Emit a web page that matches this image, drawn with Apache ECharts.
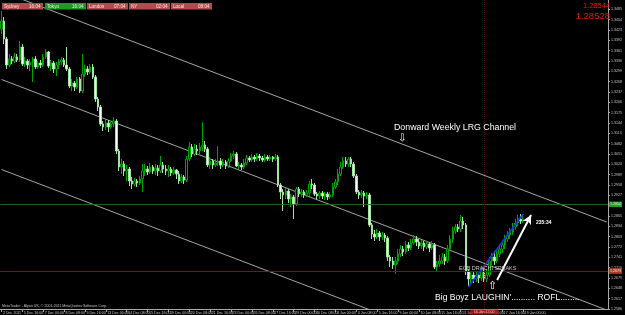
<!DOCTYPE html>
<html><head><meta charset="utf-8">
<script src="https://cdn.jsdelivr.net/npm/echarts/dist/echarts.min.js"></script>
<style>html,body{margin:0;padding:0;background:#000;}#c{width:625px;height:315px;}</style>
</head><body><div id="c"></div>
<script>
// ---- time axis labels (one every 8 four-hour bars) ----
const timeLabels = ["2 Dec 2011","5 Dec 16:00","7 Dec 00:00","8 Dec 08:00","9 Dec 16:00","13 Dec 00:00","14 Dec 08:00","15 Dec 16:00","19 Dec 00:00","20 Dec 08:00","21 Dec 16:00","23 Dec 00:00","26 Dec 08:00","27 Dec 16:00","29 Dec 00:00","30 Dec 08:00","3 Jan 00:00","4 Jan 08:00","5 Jan 16:00","9 Jan 00:00","10 Jan 08:00","11 Jan 16:00","13 Jan 00:00","16 Jan 08:00","17 Jan 16:00","19 Jan 00:00"];
const slotCount = 233;          // bars + empty chart shift on the right
const labelEvery = 8;

// ---- EURUSD H4 candles, in pips (price * 10000) ----
const opensPips = [
13426,13450,13396,13318,13336,13330,13342,13333,13372,13321,
13330,13318,13327,13336,13312,13324,13318,13342,13357,13315,
13324,13306,13318,13327,13333,13318,13306,13255,13264,13252,
13276,13240,13291,13306,13297,13312,13282,13216,13192,13141,
13132,13144,13132,13141,13150,13060,13012,13021,13000,13006,
12970,12961,12970,12964,12976,13000,13006,12997,13012,13000,
13009,13000,13018,13006,13000,13006,12994,13003,12991,12970,
12982,12973,13036,13072,13051,13066,13060,13072,13078,13066,
13018,13030,13018,13024,13030,13018,13027,13015,13030,13045,
13051,13015,13018,13012,13024,13039,13033,13042,13036,13045,
13039,13033,13042,13036,13042,13036,13042,12958,12937,12928,
12940,12916,12922,12901,12946,12931,12937,12928,12934,12961,
12958,12931,12925,12934,12925,12931,12922,12928,12952,12967,
12991,13012,13030,13021,13036,13021,12985,12937,12928,12934,
12925,12928,12838,12811,12802,12814,12802,12808,12799,12742,
12730,12718,12730,12751,12766,12757,12778,12769,12784,12796,
12787,12775,12784,12772,12781,12769,12778,12712,12721,12730,
12742,12730,12766,12796,12820,12832,12826,12850,12838,12700,
12676,12688,12676,12688,12679,12700,12676,12688,12730,12742,
12730,12751,12766,12778,12796,12808,12817,12832,12844,12856,12850];
const closesPips = [
13450,13396,13318,13336,13330,13342,13333,13372,13321,13330,
13318,13327,13336,13312,13324,13318,13342,13357,13315,13324,
13306,13318,13327,13333,13318,13306,13255,13264,13252,13276,
13240,13291,13306,13297,13312,13282,13216,13192,13141,13132,
13144,13132,13141,13150,13060,13012,13021,13000,13006,12970,
12961,12970,12964,12976,13000,13006,12997,13012,13000,13009,
13000,13018,13006,13000,13006,12994,13003,12991,12970,12982,
12973,13036,13072,13051,13066,13060,13072,13078,13066,13018,
13030,13018,13024,13030,13018,13027,13015,13030,13045,13051,
13015,13018,13012,13024,13039,13033,13042,13036,13045,13039,
13033,13042,13036,13042,13036,13042,12958,12937,12928,12940,
12916,12922,12901,12946,12931,12937,12928,12934,12961,12958,
12931,12925,12934,12925,12931,12922,12928,12952,12967,12991,
13012,13030,13021,13036,13021,12985,12937,12928,12934,12925,
12928,12838,12811,12802,12814,12802,12808,12799,12742,12730,
12718,12730,12751,12766,12757,12778,12769,12784,12796,12787,
12775,12784,12772,12781,12769,12778,12712,12721,12730,12742,
12730,12766,12796,12820,12832,12826,12850,12838,12700,12676,
12688,12676,12688,12679,12700,12676,12688,12730,12742,12730,
12751,12766,12778,12796,12808,12817,12832,12844,12856,12850,12854];
const highsPips = [
13480,13462,13402,13351,13345,13354,13351,13390,13381,13342,
13336,13336,13342,13345,13330,13333,13351,13366,13360,13333,
13330,13327,13336,13342,13339,13372,13312,13276,13270,13282,
13282,13351,13318,13315,13321,13321,13288,13222,13198,13150,
13153,13153,13150,13162,13156,13066,13036,13030,13018,13012,
12982,12979,12976,12985,13021,13021,13015,13024,13018,13021,
13018,13045,13027,13018,13018,13012,13012,13006,13000,12991,
12988,13045,13087,13081,13081,13078,13084,13147,13090,13072,
13042,13036,13036,13075,13039,13036,13033,13039,13054,13060,
13057,13027,13024,13036,13048,13045,13051,13048,13054,13051,
13045,13051,13048,13048,13045,13051,13048,12964,12946,12949,
12946,12931,12928,12952,12952,12946,12943,12943,12970,12976,
12964,12937,12940,12940,12937,12937,12937,12964,12976,13006,
13027,13042,13042,13042,13042,13027,12991,12943,12943,12940,
12937,12934,12844,12823,12826,12820,12817,12814,12805,12748,
12742,12742,12766,12778,12775,12790,12787,12796,12808,12805,
12796,12793,12790,12790,12787,12790,12784,12730,12748,12754,
12751,12778,12808,12832,12841,12841,12868,12862,12844,12706,
12700,12697,12700,12694,12712,12712,12706,12742,12754,12760,
12766,12778,12790,12808,12820,12829,12844,12856,12868,12871,12865];
const lowsPips = [
13411,13381,13306,13312,13321,13324,13327,13327,13315,13312,
13306,13300,13267,13306,13306,13309,13312,13336,13309,13300,
13294,13285,13306,13318,13312,13300,13249,13240,13240,13246,
13234,13234,13282,13288,13291,13276,13207,13180,13135,13120,
13123,13117,13126,13132,13051,13000,12991,12985,12970,12955,
12946,12955,12952,12958,12937,12985,12988,12991,12991,12988,
12985,12994,12994,12988,12982,12985,12988,12976,12961,12964,
12961,12967,13030,13042,13045,13048,13051,13060,13057,13012,
13006,13006,13012,13015,13006,13012,13006,13009,13027,13036,
13012,13006,13003,13006,13018,13027,13027,13027,13030,13030,
13027,13027,13030,13030,13027,13030,12952,12916,12880,12916,
12904,12892,12856,12895,12922,12922,12919,12922,12925,12946,
12925,12916,12916,12916,12913,12913,12916,12922,12946,12958,
12985,13006,13012,13012,13012,12979,12931,12916,12919,12892,
12916,12832,12796,12790,12796,12790,12793,12787,12730,12712,
12706,12691,12721,12742,12745,12751,12760,12763,12778,12775,
12766,12766,12760,12766,12757,12763,12706,12700,12712,12721,
12718,12724,12760,12784,12811,12817,12817,12826,12688,12655,
12661,12664,12667,12664,12670,12667,12667,12682,12718,12718,
12724,12742,12754,12766,12787,12796,12808,12823,12835,12841,12844];

// ---- drawn objects (bar index, price) ----
const levelGreen = [1.28544, 1.2695];
const levelRed = [1.2673];
const channelUpper = [[0, 1.35385], [232, 1.28470]];
const channelMiddle = [[0, 1.32745], [232, 1.25830]];
const channelLower = [[0, 1.30045], [232, 1.23130]];
const blueTrend = [[179, 1.2652], [200, 1.2871]];
const whiteArrow = [[190, 1.2673], [203, 1.2868]];
const separatorBar = 185;
const separatorLabel = "16 Jan 12:00";
const priceTicks = {min: 1.2586, max: 1.3513, step: 0.0031};

const sessionNames = ["Sydney", "Tokyo", "London", "NY", "Local"];
const sessionTimes = ["16:04", "16:04", "07:04", "02:04", "08:04"];
const sessionOpen = [false, true, false, false, false];
const quoteTexts = ["1.28544", "1.28528"];

const cats = Array.from({length: slotCount}, (_, i) => String(i));
const candles = opensPips.map((o, i) => [o / 1e4, closesPips[i] / 1e4, lowsPips[i] / 1e4, highsPips[i] / 1e4]);
const showIdx = (i) => i % labelEvery === 0 && i / labelEvery < timeLabels.length;

const chart = echarts.init(document.getElementById('c'), null, {renderer: 'canvas'});

const graphics = [];
const boxX = [2, 45, 87, 129, 171];
sessionNames.forEach((n, k) => {
  graphics.push({type: 'rect', left: boxX[k], top: 3, shape: {width: 41, height: 6.5},
    style: {fill: sessionOpen[k] ? '#1f9a1f' : '#b24c4c'}, z: 5});
  graphics.push({type: 'text', left: boxX[k] + 2, top: 4, z: 6,
    style: {text: n, fill: '#f4e8e8', font: '4.6px "Liberation Sans"'}});
  graphics.push({type: 'text', left: boxX[k] + 27, top: 4, z: 6,
    style: {text: sessionTimes[k], fill: '#f4e8e8', font: '4.6px "Liberation Sans"'}});
});
graphics.push({type: 'text', right: 15, top: 2, z: 6, style: {text: quoteTexts[0], fill: '#e01c1c', font: '7.5px "Liberation Sans"'}});
graphics.push({type: 'text', right: 15, top: 11, z: 6, style: {text: quoteTexts[1], fill: '#e01c1c', font: '9.5px "Liberation Sans"'}});
graphics.push({type: 'text', left: 394, top: 123, z: 6, style: {text: 'Donward Weekly LRG Channel', fill: '#ffffff', font: '8.8px "Liberation Sans"'}});
graphics.push({type: 'text', left: 398, top: 133, z: 6, style: {text: '⇩', fill: '#ffffff', font: '10px "DejaVu Sans"'}});
graphics.push({type: 'text', left: 459, top: 265, z: 6, style: {text: 'ECB DRACHI SPEAKS', fill: '#c8c8c8', font: '5.5px "Liberation Sans"'}});
graphics.push({type: 'text', left: 488, top: 281, z: 6, style: {text: '⇧', fill: '#ffffff', font: '11px "DejaVu Sans"'}});
graphics.push({type: 'text', left: 435, top: 293, z: 6, style: {text: "Big Boyz LAUGHIN'.......... ROFL........", fill: '#ffffff', font: '8.6px "Liberation Sans"'}});
graphics.push({type: 'text', left: 536, top: 220.5, z: 6, style: {text: '235:34', fill: '#ffffff', font: 'bold 5px "Liberation Sans"'}});
graphics.push({type: 'text', left: 2, top: 304, z: 6, style: {text: 'MetaTrader - Alpari UK, © 2001-2011 MetaQuotes Software Corp.', fill: '#c0c0c0', font: '3.6px "Liberation Sans"'}});

const hLine = (v, col, box) => ({yAxis: v, lineStyle: {color: col, type: 'solid', width: 1, opacity: 0.85},
  label: {show: true, position: 'end', distance: 1, formatter: () => v.toFixed(4), color: '#fff',
    backgroundColor: box, fontSize: 3.6, padding: [1, 1, 0.5, 1], fontFamily: 'Liberation Sans'}});

const lineSeries = (data, color, width, z) => ({type: 'line', data: data, symbol: 'none', silent: true, clip: true,
  lineStyle: {color: color, width: width}, z: z, animation: false});

chart.setOption({
  backgroundColor: '#000000',
  animation: false,
  grid: {left: 0, right: 13, top: 0, bottom: 6, containLabel: false},
  xAxis: {type: 'category', data: cats, boundaryGap: true,
    axisLine: {show: true, lineStyle: {color: '#a8a8a8', width: 1}},
    axisTick: {show: true, interval: showIdx, alignWithLabel: true, length: 3, lineStyle: {color: '#a8a8a8'}},
    axisLabel: {interval: showIdx, formatter: (v, i) => timeLabels[i / labelEvery] || '', color: '#c8c8c8',
      fontSize: 3.6, align: 'left', margin: 1.5, padding: [0, 0, 0, 1.5], fontFamily: 'Liberation Sans'},
    splitLine: {show: false}},
  yAxis: {type: 'value', position: 'right', min: priceTicks.min, max: priceTicks.max, interval: priceTicks.step,
    axisLine: {show: true, lineStyle: {color: '#a8a8a8'}},
    axisTick: {show: true, length: 2, lineStyle: {color: '#a8a8a8'}},
    splitLine: {show: false},
    axisLabel: {color: '#c8c8c8', fontSize: 3.6, margin: 3, showMaxLabel: false, fontFamily: 'Liberation Sans',
      formatter: (v) => v.toFixed(4)}},
  series: [
    lineSeries(channelUpper, '#a6a6a6', 1, 1),
    lineSeries(channelMiddle, '#a6a6a6', 1, 1),
    lineSeries(channelLower, '#a6a6a6', 1, 1),
    {type: 'candlestick', data: candles, barWidth: 2, z: 3,
      itemStyle: {color: '#000000', color0: '#ffffff', borderColor: '#00a400', borderColor0: '#a0e6a0', borderWidth: 1},
      markLine: {silent: true, symbol: ['none', 'none'], animation: false, lineStyle: {color: '#2e6e2e'},
        data: [
          hLine(levelGreen[0], '#2e6e2e', '#22b022'),
          hLine(levelGreen[1], '#2e6e2e', '#22b022'),
          hLine(levelRed[0], '#6e1414', '#cc2020'),
          {xAxis: separatorBar, lineStyle: {color: '#701010', type: 'dotted', width: 1, opacity: 0.8},
            label: {show: true, position: 'start', distance: 0.5, formatter: separatorLabel, color: '#ffdddd',
              backgroundColor: '#c01818', fontSize: 3.6, padding: [0.5, 4, 0.5, 4], fontFamily: 'Liberation Sans'}}
        ]}},
    lineSeries(blueTrend, '#2330e6', 1.6, 4),
    {type: 'line', data: [], silent: true, z: 6,
      markLine: {silent: true, symbol: ['none', 'arrow'], symbolSize: [7, 9], animation: false,
        lineStyle: {color: '#ffffff', width: 2, type: 'solid'}, label: {show: false},
        data: [[{coord: whiteArrow[0]}, {coord: whiteArrow[1]}]]}}
  ],
  graphic: graphics
});
</script>
</body></html>
